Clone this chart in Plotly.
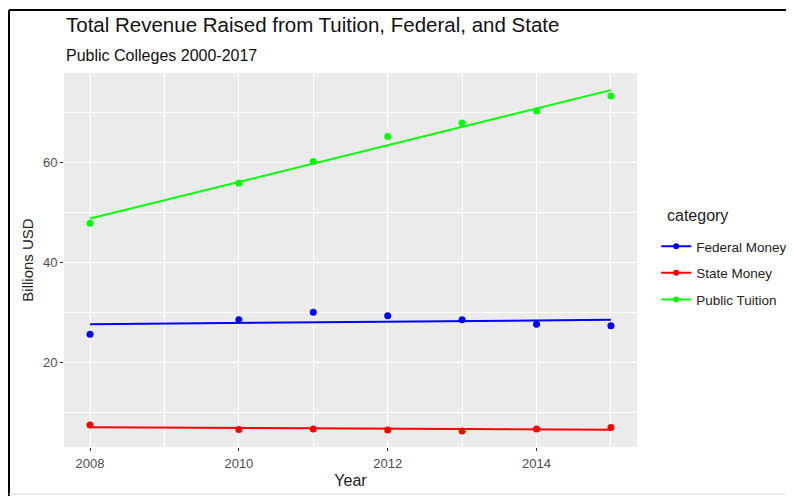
import numpy as np
import plotly.graph_objects as go

# ---- data ----
years = [2008, 2010, 2011, 2012, 2013, 2014, 2015]
federal_money = [25.7, 28.6, 30.1, 29.4, 28.6, 27.7, 27.4]
state_money = [7.6, 6.7, 6.8, 6.6, 6.4, 6.8, 7.1]
public_tuition = [47.9, 55.9, 60.2, 65.2, 67.9, 70.3, 73.3]
categories = ["Federal Money", "State Money", "Public Tuition"]
series = [federal_money, state_money, public_tuition]
colors = ["#0000ff", "#ff0000", "#00ff00"]
x_ticks = [2008, 2010, 2012, 2014]
y_ticks = [20, 40, 60]

FONT = "Liberation Sans, Arial, Helvetica, sans-serif"

fig = go.Figure()

# points
for name, vals, col in zip(categories, series, colors):
    fig.add_trace(go.Scatter(x=years, y=vals, mode="markers", name=name,
                             marker=dict(color=col, size=7), showlegend=False,
                             legendgroup=name))
# linear fits (geom_smooth(method = "lm", se = FALSE))
for name, vals, col in zip(categories, series, colors):
    coef = np.polyfit(years, vals, 1)
    fig.add_trace(go.Scatter(x=years, y=np.polyval(coef, years), mode="lines",
                             name=name, line=dict(color=col, width=2),
                             showlegend=False, legendgroup=name))
# legend entries
for name, col in zip(categories, colors):
    fig.add_trace(go.Scatter(x=[None], y=[None], mode="lines+markers", name=name,
                             line=dict(color=col, width=2),
                             marker=dict(color=col, size=6),
                             legendgroup=name, showlegend=True))

# page body has an 8px margin: figure is 8px smaller, margins shifted accordingly
fig.update_layout(
    width=786, height=488,
    margin=dict(l=56, r=157, t=65, b=49, pad=0, autoexpand=False),
    paper_bgcolor="white",
    plot_bgcolor="#ebebeb",
    font=dict(family=FONT, color="#222222"),
    legend=dict(x=1.0335, y=0.5775, xanchor="left", yanchor="top",
                font=dict(size=13.5, color="#222222"),
                tracegroupgap=6, bgcolor="rgba(0,0,0,0)"),
    xaxis=dict(range=[2007.65, 2015.35], tickvals=x_ticks, automargin=False,
               showgrid=True, gridcolor="white", gridwidth=1.1,
               minor=dict(tickvals=[2009, 2011, 2013, 2015], showgrid=True,
                          gridcolor="white", gridwidth=0.5),
               zeroline=False, showline=False,
               ticks="outside", ticklen=3, tickcolor="#333333", tickwidth=1,
               ticklabelstandoff=1,
               tickfont=dict(size=13, color="#4d4d4d"),
               title=dict(text="Year", font=dict(size=16, color="#222222"), standoff=5)),
    yaxis=dict(range=[3.2, 77.9], tickvals=y_ticks, automargin=False,
               showgrid=True, gridcolor="white", gridwidth=1.1,
               minor=dict(tickvals=[10, 30, 50, 70], showgrid=True,
                          gridcolor="white", gridwidth=0.5),
               zeroline=False, showline=False,
               ticks="outside", ticklen=3, tickcolor="#333333", tickwidth=1,
               tickfont=dict(size=13, color="#4d4d4d"),
               title=dict(text="Billions USD", font=dict(size=15, color="#222222"), standoff=5)),
)

# legend title
fig.add_annotation(text="category", xref="paper", yref="paper",
                   x=(665 - 64) / 573, y=(447 - 215) / 374,
                   xanchor="left", yanchor="middle", showarrow=False,
                   font=dict(size=16, color="#222222", family=FONT))

# titles
fig.add_annotation(text="Total Revenue Raised from Tuition, Federal, and State",
                   xref="paper", yref="paper", x=0, y=(447 - 25) / 374,
                   xanchor="left", yanchor="middle", showarrow=False,
                   font=dict(size=20.5, color="#111111", family=FONT))
fig.add_annotation(text="Public Colleges 2000-2017",
                   xref="paper", yref="paper", x=0, y=(447 - 55) / 374,
                   xanchor="left", yanchor="middle", showarrow=False,
                   font=dict(size=16, color="#111111", family=FONT))

# screenshot frame
fig.add_shape(type="line", xref="paper", yref="paper",
              x0=(9 - 64) / 573, x1=(800 - 64) / 573, y0=(447 - 10) / 374, y1=(447 - 10) / 374,
              line=dict(color="black", width=2))
fig.add_shape(type="line", xref="paper", yref="paper",
              x0=(9 - 64) / 573, x1=(9 - 64) / 573, y0=(447 - 10) / 374, y1=(447 - 500) / 374,
              line=dict(color="black", width=2))
fig.add_shape(type="line", xref="paper", yref="paper",
              x0=(9 - 64) / 573, x1=(800 - 64) / 573, y0=(447 - 494) / 374, y1=(447 - 494) / 374,
              line=dict(color="#dddddd", width=1))

fig.write_html("out.html")
